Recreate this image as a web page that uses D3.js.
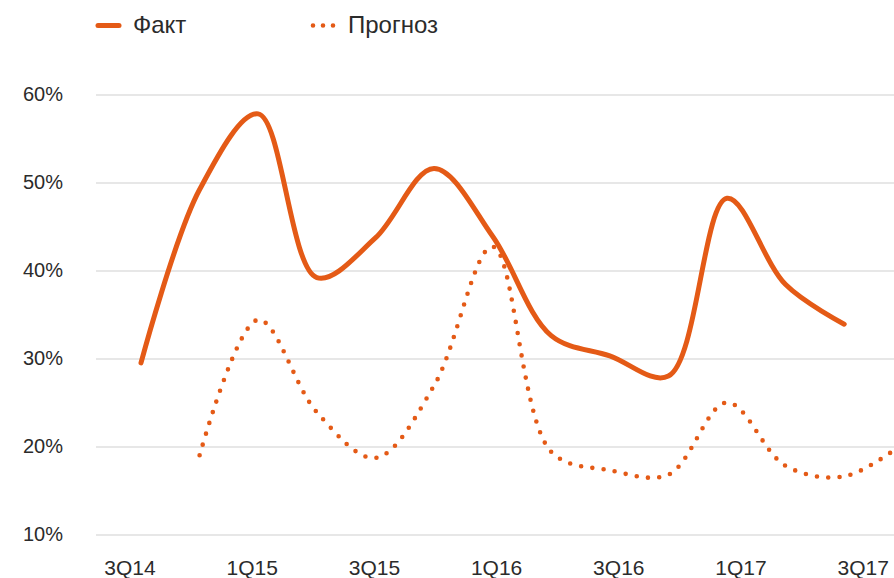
<!DOCTYPE html>
<html>
<head>
<meta charset="utf-8">
<script src="https://cdn.jsdelivr.net/npm/d3@7"></script>
<style>
  body { margin: 0; background: #fff; }
  svg { display: block; font-family: "Liberation Sans", Arial, sans-serif; }
</style>
</head>
<body>
<div id="chart-area"></div>
<script>
// data
var quarters = ["3Q14", "4Q14", "1Q15", "2Q15", "3Q15", "4Q15", "1Q16", "2Q16",
	"3Q16", "4Q16", "1Q17", "2Q17", "3Q17", "4Q17"];
var tickLabels = ["3Q14", "1Q15", "3Q15", "1Q16", "3Q16", "1Q17", "3Q17"];
var factValues = [29.5, 49.2, 57.8, 39.2, 43.7, 51.6, 43.9, 32.6, 30.3, 28.0, 48.2, 38.4, 33.9, null];
var forecastValues = [null, 19.0, 34.4, 23.9, 18.7, 26.9, 42.7, 19.4, 17.3, 16.8, 25.0, 17.8, 16.6, 20.3];
var yTicks = [10, 20, 30, 40, 50, 60];
var seriesNames = ["Факт", "Прогноз"];

var width = 894;
var height = 578;
var orange = "#e45a16";
var textColor = "#2b2b2b";

var svg = d3.select("#chart-area").append("svg")
	.attr("width", width)
	.attr("height", height);

// Scales
var x = d3.scalePoint()
	.domain(quarters)
	.range([141, 902.8]);

var xLabels = d3.scalePoint()
	.domain(tickLabels)
	.range([129.5, 862.7]);

var y = d3.scaleLinear()
	.domain([10, 60])
	.range([534.5, 94.5]);

// grid + y labels
var yAxisCall = d3.axisLeft(y)
	.tickValues(yTicks)
	.tickSize(-(width - 96))
	.tickPadding(33)
	.tickFormat((d) => d + "%");

var yAxisGroup = svg.append("g")
	.attr("class", "y axis")
	.attr("transform", "translate(96, 0)")
	.call(yAxisCall);

yAxisGroup.select(".domain").remove();
yAxisGroup.selectAll(".tick line")
	.attr("stroke", "#cfcfcf")
	.attr("stroke-width", 1.2);
yAxisGroup.selectAll(".tick text")
	.attr("fill", textColor)
	.style("font-size", "20px");

// x labels
var xAxisCall = d3.axisBottom(xLabels)
	.tickSize(0)
	.tickPadding(0);

var xAxisGroup = svg.append("g")
	.attr("class", "x axis")
	.attr("transform", "translate(0, 575)")
	.call(xAxisCall);

xAxisGroup.select(".domain").remove();
xAxisGroup.selectAll(".tick text")
	.attr("y", 0)
	.attr("dy", 0)
	.attr("fill", textColor)
	.style("font-size", "21px");

// lines
var line = d3.line()
	.defined((d) => d.v != null)
	.x((d) => x(d.q))
	.y((d) => y(d.v))
	.curve(d3.curveCatmullRom);

var factData = quarters.map((q, i) => ({ q: q, v: factValues[i] }));
var forecastData = quarters.map((q, i) => ({ q: q, v: forecastValues[i] }));

svg.append("path")
	.datum(forecastData)
	.attr("fill", "none")
	.attr("stroke", orange)
	.attr("stroke-width", 4.6)
	.attr("stroke-linecap", "round")
	.attr("stroke-dasharray", "0,11.3")
	.attr("d", line);

svg.append("path")
	.datum(factData)
	.attr("fill", "none")
	.attr("stroke", orange)
	.attr("stroke-width", 5)
	.attr("stroke-linecap", "round")
	.attr("stroke-linejoin", "round")
	.attr("d", line);

// legend
var legend = svg.append("g");

legend.append("line")
	.attr("x1", 98).attr("x2", 119)
	.attr("y1", 25.5).attr("y2", 25.5)
	.attr("stroke", orange)
	.attr("stroke-width", 5)
	.attr("stroke-linecap", "round");

legend.append("text")
	.attr("x", 133)
	.attr("y", 33)
	.attr("fill", textColor)
	.style("font-size", "24px")
	.text(seriesNames[0]);

legend.append("line")
	.attr("x1", 313).attr("x2", 334)
	.attr("y1", 25.5).attr("y2", 25.5)
	.attr("stroke", orange)
	.attr("stroke-width", 4.6)
	.attr("stroke-linecap", "round")
	.attr("stroke-dasharray", "0,10");

legend.append("text")
	.attr("x", 348)
	.attr("y", 33)
	.attr("fill", textColor)
	.style("font-size", "24px")
	.text(seriesNames[1]);
</script>
</body>
</html>
